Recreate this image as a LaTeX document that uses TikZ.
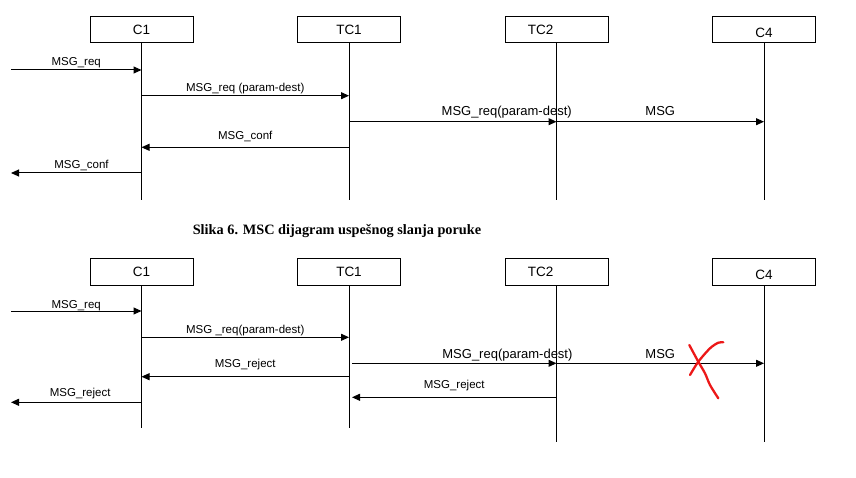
\documentclass[tikz,border=0pt]{standalone}
\usepackage{fontspec}
\setmainfont{Liberation Sans}
\newfontfamily\capfont{Liberation Serif}
\usetikzlibrary{positioning,arrows.meta}

\definecolor{xred}{RGB}{236,24,24}
\tikzset{
  box/.style={draw, line width=1pt, minimum width=103pt, minimum height=26pt,
    inner sep=0pt, font=\fontsize{13.5}{15}\selectfont},
  boxtext/.style={font=\fontsize{13.5}{15}\selectfont, inner sep=0pt},
  life/.style={line width=1pt},
  msg/.style={line width=1pt, -{Triangle[length=8pt,width=7pt]}},
  lbl/.style={font=\fontsize{11.5}{13}\selectfont, inner sep=0pt, anchor=base},
  wide/.style={font=\fontsize{13}{15}\selectfont, inner sep=0pt, anchor=base},
  cross/.style={draw=xred, line width=2.3pt, line cap=round, line join=round},
}

\begin{document}
\begin{tikzpicture}[x=1pt,y=-1pt,node distance=207.5pt,on grid]
\useasboundingbox (0,0) rectangle (856,478);

% first chart: message delivered
\node[box] (c1) at (141.5,30) {C1};
\node[box] (tc1) [right=of c1] {TC1};
\node[box, label={[boxtext, xshift=-16pt]center:TC2}] (tc2) [right=of tc1] {};
\node[box, label={[boxtext, yshift=-3pt]center:C4}] (c4) [right=of tc2] {};

\coordinate (envA) at (11,0);
\coordinate (endA) at (0,200);
\foreach \n in {c1,tc1,tc2,c4}
  \draw[life] (\n.south) -- (\n |- endA);

\coordinate (a1) at (0,70);
\coordinate (a2) at (0,95.7);
\coordinate (a3) at (0,121.7);
\coordinate (a4) at (0,147.3);
\coordinate (a5) at (0,173);

\draw[msg] (envA |- a1) -- node[lbl, yshift=4pt] {MSG\_req} (c1 |- a1);
\draw[msg] (c1 |- a2) -- node[lbl, yshift=4pt] {MSG\_req (param-dest)} (tc1 |- a2);
\draw[msg] (tc1 |- a3) -- node[wide, pos=.76, yshift=5.7pt] {MSG\_req(param-dest)} (tc2 |- a3);
\draw[msg] (tc2 |- a3) -- node[wide, yshift=5.7pt] {MSG} (c4 |- a3);
\draw[msg] (tc1 |- a4) -- node[lbl, yshift=7.3pt] {MSG\_conf} (c1 |- a4);
\draw[msg] (c1 |- a5) -- node[lbl, pos=.46, yshift=4pt] {MSG\_conf} (envA |- a5);

\node[font=\capfont\bfseries\fontsize{14.3}{16}\selectfont, anchor=base] (cap) at (337,235)
  {Slika 6. MSC dijagram uspešnog slanja poruke};

% second chart: message rejected
\node[box] (bc1) [below=242pt of c1] {C1};
\node[box] (btc1) [right=of bc1] {TC1};
\node[box, label={[boxtext, xshift=-16pt]center:TC2}] (btc2) [right=of btc1] {};
\node[box, label={[boxtext, yshift=-3pt]center:C4}] (bc4) [right=of btc2] {};

\coordinate (endB) at (0,428);
\coordinate (endC) at (0,441.7);
\foreach \n in {bc1,btc1}
  \draw[life] (\n.south) -- (\n |- endB);
\foreach \n in {btc2,bc4}
  \draw[life] (\n.south) -- (\n |- endC);

\coordinate (b1) at (0,311);
\coordinate (b2) at (0,337.3);
\coordinate (b3) at (0,363.3);
\coordinate (b4) at (0,376.7);
\coordinate (b5) at (0,397.3);
\coordinate (b6) at (0,402.3);

\draw[msg] (envA |- b1) -- node[lbl, yshift=3pt] {MSG\_req} (bc1 |- b1);
\draw[msg] (bc1 |- b2) -- node[lbl, yshift=4pt] {MSG \_req(param-dest)} (btc1 |- b2);
\draw[msg] ([xshift=3pt]btc1 |- b3) -- node[wide, pos=.76, yshift=5pt] {MSG\_req(param-dest)} (btc2 |- b3);
\draw[msg] (btc2 |- b3) -- node[wide, yshift=5pt] {MSG} (bc4 |- b3);
\draw[msg] (btc1 |- b4) -- node[lbl, yshift=9pt] {MSG\_reject} (bc1 |- b4);
\draw[msg] (btc2 |- b5) -- node[lbl, yshift=9pt] {MSG\_reject} ([xshift=3pt]btc1 |- b5);
\draw[msg] (bc1 |- b6) -- node[lbl, pos=.47, yshift=5.6pt] {MSG\_reject} (envA |- b6);

% hand drawn cross over the lost message
\draw[cross] plot[smooth] coordinates {(689.3,345) (698.3,361.7) (705,373.3) (710,385) (718.3,398.3)};
\draw[cross] plot[smooth] coordinates {(690,375) (698.3,361.7) (710,348.3) (718.3,342.7) (723.3,342.3)};
\end{tikzpicture}
\end{document}
